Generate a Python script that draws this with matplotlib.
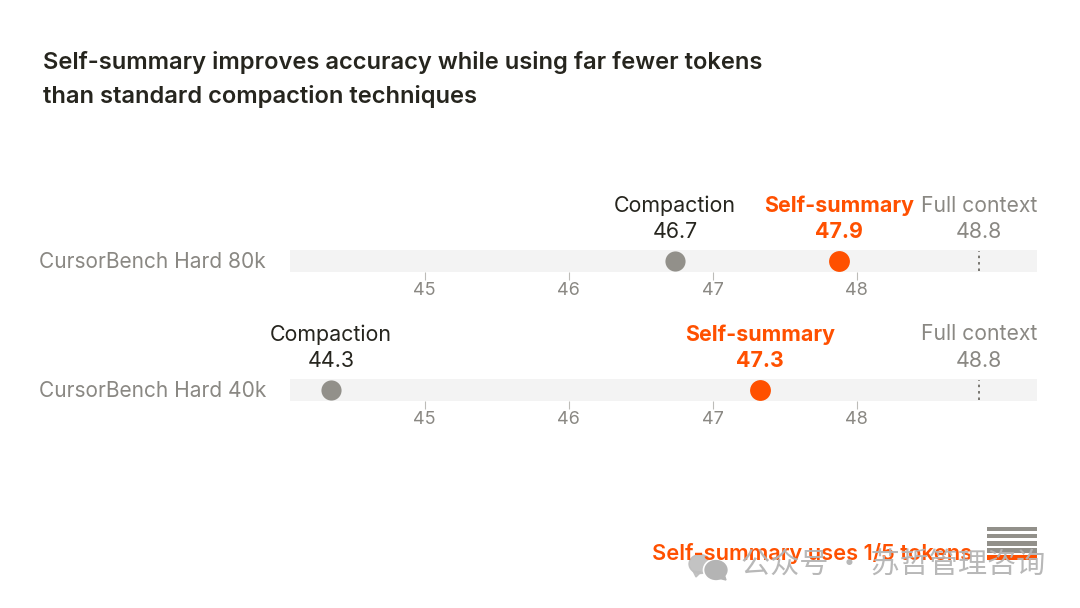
import matplotlib
matplotlib.use("Agg")
import matplotlib.pyplot as plt
from matplotlib.patches import Ellipse, Polygon

W, H = 1080, 608
ORANGE = "#FF5000"
DARK = "#26251E"
GRAY = "#8A8883"
DOTGRAY = "#92908A"
BAND = "#F3F3F3"
plt.rcParams["font.family"] = ["Inter", "DejaVu Sans"]

title_lines = ["Self-summary improves accuracy while using far fewer tokens",
               "than standard compaction techniques"]
benchmarks = ["CursorBench Hard 80k", "CursorBench Hard 40k"]
compaction = [46.74, 44.349]
self_summary = [47.88, 47.33]
full_context = [48.849, 48.849]
ticks = [45, 46, 47, 48]
token_note = "Self-summary uses 1/5 tokens"
token_rows = [1, 1, 1, 1, 1]
token_colors = [DOTGRAY, DOTGRAY, DOTGRAY, DOTGRAY, ORANGE]
watermark = "公众号 · 苏哲管理咨询"

XMIN, XMAX = 44.066, 49.253
BAND_TOPS = [250, 379]
LABEL_OFF = 44.5 * 0.72
VALUE_OFF = 18 * 0.72

fig = plt.figure(figsize=(W / 100, H / 100), dpi=100, facecolor="white")

def px_axes(x0, y0, x1, y1):
    return fig.add_axes([x0 / W, 1 - y1 / H, (x1 - x0) / W, (y1 - y0) / H])

for t, y in zip(title_lines, [63, 97]):
    fig.text(43 / W, 1 - y / H, t, fontsize=17.07, fontweight="semibold", color=DARK,
             va="center", ha="left")

for i, name in enumerate(benchmarks):
    top = BAND_TOPS[i]
    ax = px_axes(290, top, 1037, top + 22)
    ax.set_facecolor(BAND)
    ax.set_xlim(XMIN, XMAX)
    ax.set_ylim(0, 1)
    ax.set_yticks([])
    ax.set_xticks(ticks)
    ax.set_xticklabels([str(t) for t in ticks], fontsize=13, color=GRAY)
    ax.tick_params(axis="x", length=6, width=0.8, color="#BDBCB8", pad=1.3, direction="out")
    for s in ax.spines.values():
        s.set_visible(False)

    ax.plot([full_context[i]] * 2, [0.05, 0.95], color="#77756F", lw=1.4,
            linestyle=(0, (1.3, 2.0)), zorder=2)
    ax.plot(compaction[i], 0.5, "o", ms=14.5, mfc=DOTGRAY, mec=DOTGRAY, mew=0, zorder=3, clip_on=False)
    ax.plot(self_summary[i], 0.5, "o", ms=15, mfc=ORANGE, mec=ORANGE, mew=0, zorder=3, clip_on=False)

    fig.text(266 / W, 1 - (top + 12) / H, name, fontsize=15.05, color=GRAY, ha="right", va="center")

    for x, label, c, weight in [(compaction[i], "Compaction", DARK, "normal"),
                                (self_summary[i], "Self-summary", ORANGE, "bold")]:
        ax.annotate(label, (x, 1), xytext=(0, LABEL_OFF), textcoords="offset points",
                    ha="center", va="center", fontsize=15.4, color=c, fontweight=weight, annotation_clip=False)
        ax.annotate(f"{x:.1f}", (x, 1), xytext=(0, VALUE_OFF), textcoords="offset points",
                    ha="center", va="center", fontsize=15.4, color=c, fontweight=weight, annotation_clip=False)
    ax.annotate("Full context", (XMAX, 1), xytext=(0, LABEL_OFF), textcoords="offset points",
                ha="right", va="center", fontsize=15.2, color=GRAY, annotation_clip=False)
    ax.annotate(f"{full_context[i]:.1f}", (full_context[i], 1), xytext=(0, VALUE_OFF),
                textcoords="offset points", ha="center", va="center", fontsize=15.4, color=GRAY,
                annotation_clip=False)

# token legend
fig.text(972 / W, 1 - 553 / H, token_note, fontsize=15.7, fontweight="semibold", color=ORANGE,
         ha="right", va="center")
lax = px_axes(987, 525.5, 1037, 561)
lax.axis("off")
lax.barh(range(len(token_rows)), token_rows, height=0.66, color=token_colors)
lax.set_xlim(0, 1)
lax.set_ylim(len(token_rows) - 0.5, -0.5)

# watermark
fig.text(741 / W, 1 - 566 / H, watermark, fontsize=21, color="#B4B4B4", ha="left", va="center",
         family=["Noto Sans CJK SC", "DejaVu Sans"], alpha=0.95, zorder=10)
wax = px_axes(685, 550, 735, 585)
wax.axis("off")
wax.set_xlim(685, 735)
wax.set_ylim(585, 550)
wax.add_patch(Ellipse((700, 564), 22, 19, color="#BDBDBD", alpha=0.9))
wax.add_patch(Polygon([[693, 571], [696, 577], [701, 572]], color="#BDBDBD", alpha=0.9))
wax.add_patch(Ellipse((716, 570), 25, 22, fc="#B4B4B4", ec="white", lw=1.2))
wax.add_patch(Polygon([[718, 578], [726, 580], [724, 574]], color="#B4B4B4"))

fig.savefig("out.png", dpi=100)
